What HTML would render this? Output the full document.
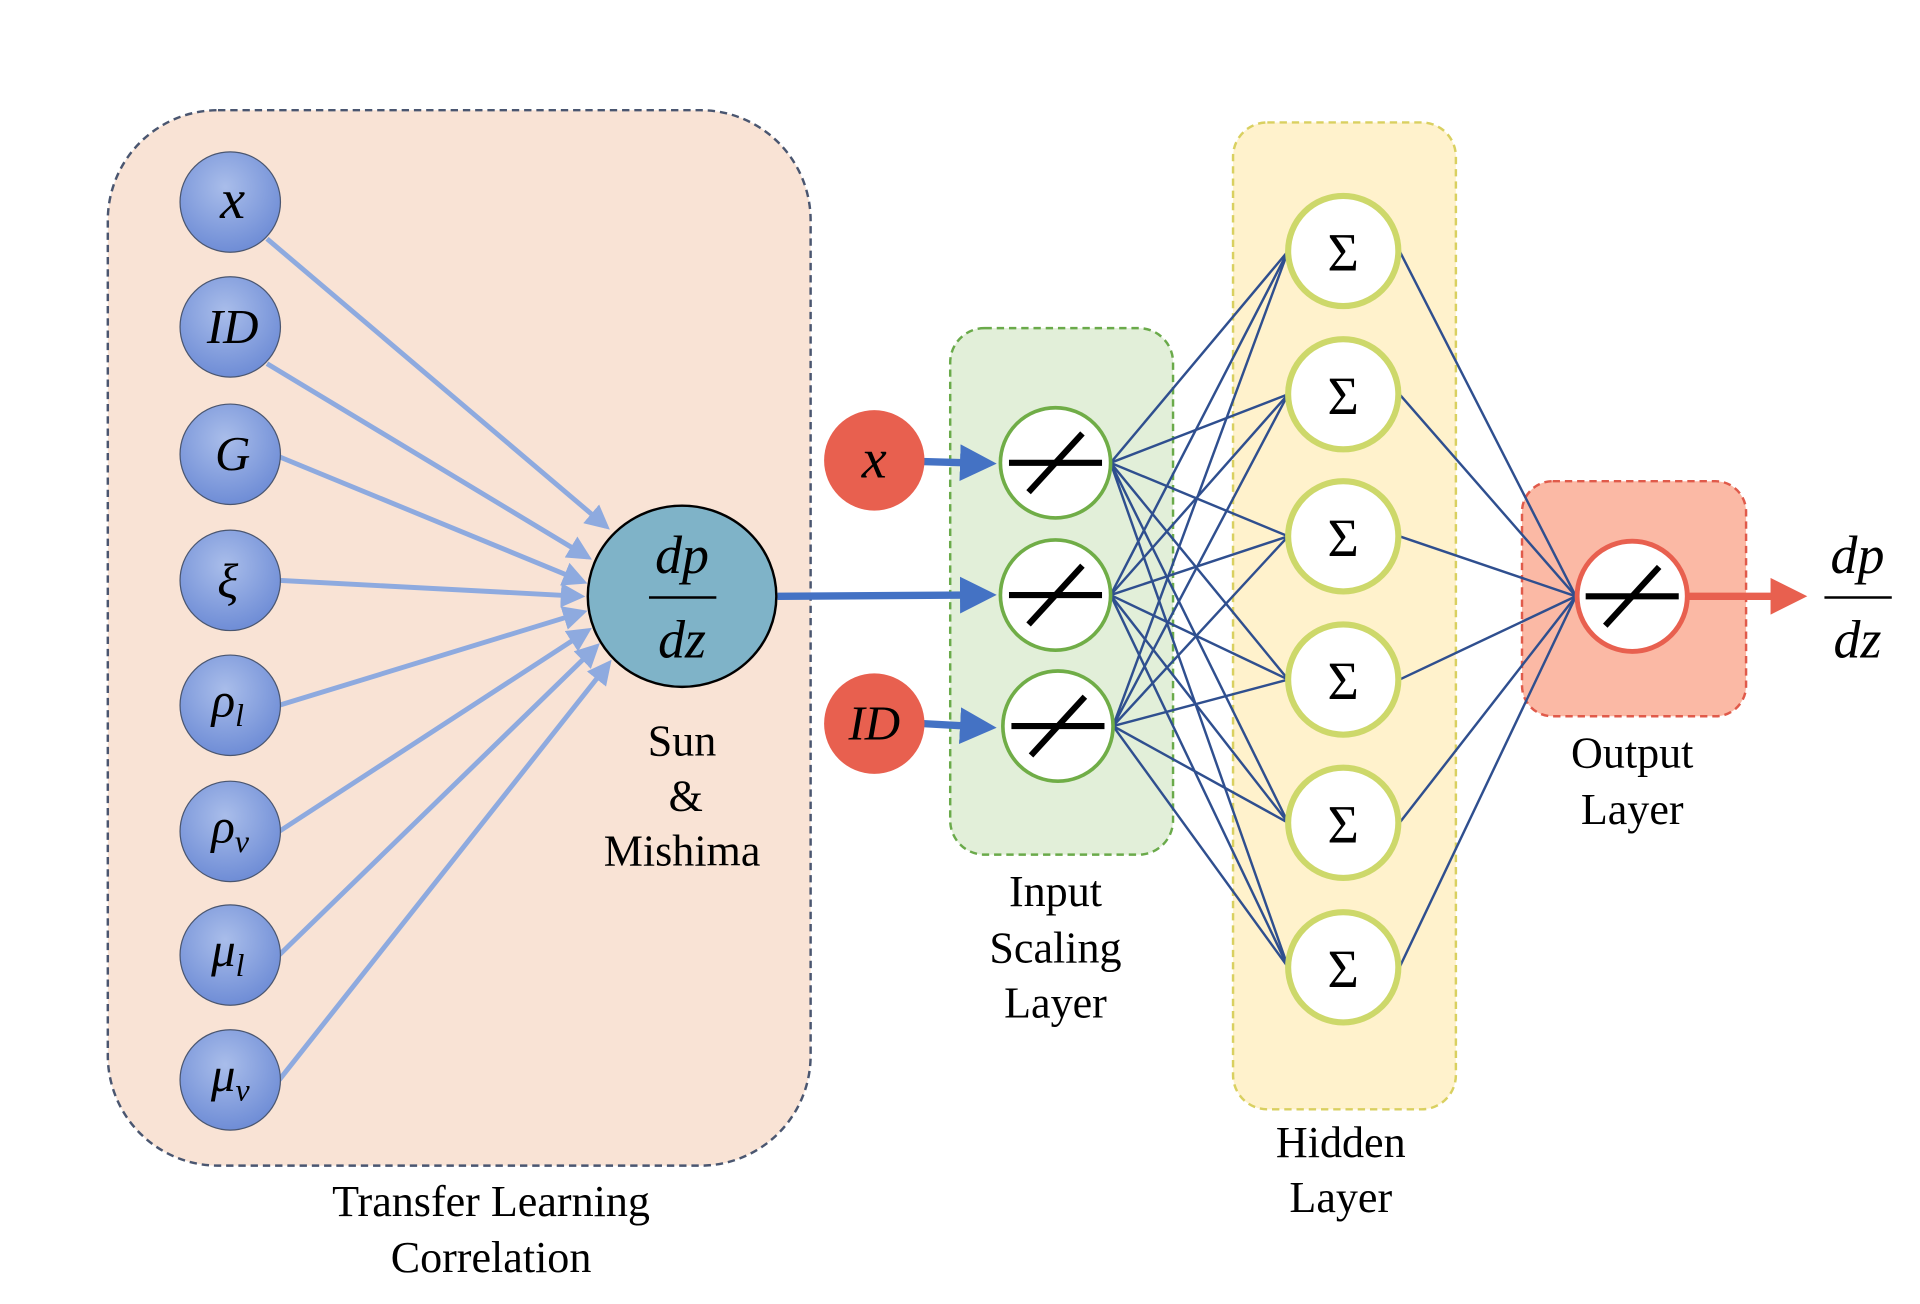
<!DOCTYPE html>
<html><head><meta charset="utf-8"><style>
html,body{margin:0;padding:0;background:#fff}
svg{display:block}
text{font-family:"Liberation Serif",serif;fill:#000}
.m{font-style:italic}
</style></head><body>
<svg width="1920" height="1304" viewBox="0 0 1568 1065" xmlns="http://www.w3.org/2000/svg">
<defs>
<radialGradient id="bg" cx="45%" cy="35%" r="65%"><stop offset="0" stop-color="#a9bdea"/><stop offset="1" stop-color="#6f8dd6"/></radialGradient>
<marker id="al" markerWidth="5" markerHeight="5" refX="4" refY="2.5" orient="auto" markerUnits="strokeWidth"><path d="M0,0 L5,2.5 L0,5 z" fill="#8eaadf"/></marker>
<marker id="ab" markerWidth="5" markerHeight="5" refX="1" refY="2.5" orient="auto" markerUnits="strokeWidth"><path d="M0,0 L5,2.5 L0,5 z" fill="#4472c4"/></marker>
<marker id="ar" markerWidth="5" markerHeight="5" refX="1" refY="2.5" orient="auto" markerUnits="strokeWidth"><path d="M0,0 L5,2.5 L0,5 z" fill="#e8604f"/></marker>
</defs>
<rect x="88" y="90" width="574" height="862" rx="90" fill="#f9e3d5" stroke="#4a5670" stroke-width="2" stroke-dasharray="6,4"/>
<rect x="776" y="268" width="182" height="430" rx="28" fill="#e2efd9" stroke="#6aaa4a" stroke-width="2" stroke-dasharray="6,4"/>
<rect x="1007" y="100" width="182" height="806" rx="28" fill="#fff2cc" stroke="#d9d060" stroke-width="2" stroke-dasharray="6,4"/>
<rect x="1243" y="393" width="183" height="192" rx="25" fill="#fbb9a5" stroke="#e05a4a" stroke-width="2" stroke-dasharray="6,4"/>
<g stroke="#8eaadf" stroke-width="4" marker-end="url(#al)">
<line x1="218" y1="195" x2="495" y2="430"/>
<line x1="218" y1="297" x2="480" y2="455"/>
<line x1="228" y1="373" x2="476" y2="475"/>
<line x1="228" y1="474" x2="474" y2="487"/>
<line x1="228" y1="576" x2="476" y2="500"/>
<line x1="228" y1="679" x2="480" y2="515"/>
<line x1="228" y1="780" x2="487" y2="528"/>
<line x1="228" y1="882" x2="497" y2="542"/>
</g>
<g stroke="#4a5670" stroke-width="1" fill="url(#bg)">
<circle cx="188" cy="165" r="41"/><circle cx="188" cy="267" r="41"/><circle cx="188" cy="371" r="41"/><circle cx="188" cy="474" r="41"/>
<circle cx="188" cy="576" r="41"/><circle cx="188" cy="679" r="41"/><circle cx="188" cy="780" r="41"/><circle cx="188" cy="882" r="41"/>
</g>
<g font-size="40" text-anchor="middle" class="m">
<text x="190" y="178" class="m" font-size="46">x</text>
<text x="190" y="280" class="m">ID</text>
<text x="190" y="384" class="m">G</text>
<text x="186" y="488" class="m">ξ</text>
<text x="186" y="585" class="m">ρ<tspan font-size="26" dy="8">l</tspan></text>
<text x="188" y="688" class="m">ρ<tspan font-size="26" dy="8">ν</tspan></text>
<text x="186" y="789" class="m">μ<tspan font-size="26" dy="8">l</tspan></text>
<text x="188" y="891" class="m">μ<tspan font-size="26" dy="8">ν</tspan></text>
</g>
<ellipse cx="557" cy="487" rx="77" ry="74" fill="#7fb3c8" stroke="#000" stroke-width="2"/>
<text x="557" y="468" font-size="44" text-anchor="middle" class="m">dp</text>
<line x1="530" y1="488" x2="585" y2="488" stroke="#000" stroke-width="2"/>
<text x="557" y="537" font-size="44" text-anchor="middle" class="m">dz</text>
<g font-size="36" text-anchor="middle">
<text x="557" y="617">Sun</text><text x="560" y="662">&amp;</text><text x="557" y="707">Mishima</text>
<text x="401" y="993">Transfer Learning</text><text x="401" y="1039">Correlation</text>
<text x="862" y="740">Input</text><text x="862" y="786">Scaling</text><text x="862" y="831">Layer</text>
<text x="1095" y="945">Hidden</text><text x="1095" y="990">Layer</text>
<text x="1333" y="627">Output</text><text x="1333" y="673">Layer</text>
</g>
<g stroke="#4472c4" stroke-width="6" marker-end="url(#ab)">
<line x1="635" y1="487" x2="790" y2="486"/>
<line x1="754" y1="377" x2="790" y2="378"/>
<line x1="754" y1="591" x2="790" y2="593"/>
</g>
<circle cx="714" cy="376" r="41" fill="#e8604f"/><circle cx="714" cy="591" r="41" fill="#e8604f"/>
<text x="714" y="390" font-size="46" text-anchor="middle" class="m">x</text>
<text x="714" y="604" font-size="40" text-anchor="middle" class="m">ID</text>
<g stroke="#2f4f8f" stroke-width="2">
<line x1="907" y1="378" x2="1052" y2="205"/><line x1="907" y1="378" x2="1052" y2="322"/><line x1="907" y1="378" x2="1052" y2="438"/><line x1="907" y1="378" x2="1052" y2="555"/><line x1="907" y1="378" x2="1052" y2="672"/><line x1="907" y1="378" x2="1052" y2="790"/>
<line x1="907" y1="486" x2="1052" y2="205"/><line x1="907" y1="486" x2="1052" y2="322"/><line x1="907" y1="486" x2="1052" y2="438"/><line x1="907" y1="486" x2="1052" y2="555"/><line x1="907" y1="486" x2="1052" y2="672"/><line x1="907" y1="486" x2="1052" y2="790"/>
<line x1="909" y1="593" x2="1052" y2="205"/><line x1="909" y1="593" x2="1052" y2="322"/><line x1="909" y1="593" x2="1052" y2="438"/><line x1="909" y1="593" x2="1052" y2="555"/><line x1="909" y1="593" x2="1052" y2="672"/><line x1="909" y1="593" x2="1052" y2="790"/>
<line x1="1143" y1="205" x2="1287" y2="487"/><line x1="1143" y1="322" x2="1287" y2="487"/><line x1="1143" y1="438" x2="1287" y2="487"/><line x1="1143" y1="555" x2="1287" y2="487"/><line x1="1143" y1="672" x2="1287" y2="487"/><line x1="1143" y1="790" x2="1287" y2="487"/>
</g>
<g fill="#fff" stroke="#70ad47" stroke-width="3">
<circle cx="862" cy="378" r="45"/><circle cx="862" cy="486" r="45"/><circle cx="864" cy="593" r="45"/>
</g>
<g stroke="#000" stroke-width="5">
<line x1="824" y1="378" x2="900" y2="378"/><line x1="840" y1="402" x2="884" y2="354"/>
<line x1="824" y1="486" x2="900" y2="486"/><line x1="840" y1="510" x2="884" y2="462"/>
<line x1="826" y1="593" x2="902" y2="593"/><line x1="842" y1="617" x2="886" y2="569"/>
</g>
<g fill="#fff" stroke="#cdd86a" stroke-width="5">
<circle cx="1097" cy="205" r="45"/><circle cx="1097" cy="322" r="45"/><circle cx="1097" cy="438" r="45"/><circle cx="1097" cy="555" r="45"/><circle cx="1097" cy="672" r="45"/><circle cx="1097" cy="790" r="45"/>
</g>
<g font-size="44" text-anchor="middle">
<text x="1097" y="221">Σ</text><text x="1097" y="338">Σ</text><text x="1097" y="454">Σ</text><text x="1097" y="571">Σ</text><text x="1097" y="688">Σ</text><text x="1097" y="806">Σ</text>
</g>
<line x1="1378" y1="487" x2="1452" y2="487" stroke="#e8604f" stroke-width="6" marker-end="url(#ar)"/>
<circle cx="1333" cy="487" r="45" fill="#fff" stroke="#e8604f" stroke-width="4"/>
<line x1="1295" y1="487" x2="1371" y2="487" stroke="#000" stroke-width="5"/><line x1="1311" y1="511" x2="1355" y2="463" stroke="#000" stroke-width="5"/>
<text x="1517" y="468" font-size="44" text-anchor="middle" class="m">dp</text>
<line x1="1490" y1="488" x2="1545" y2="488" stroke="#000" stroke-width="2"/>
<text x="1517" y="537" font-size="44" text-anchor="middle" class="m">dz</text>
</svg>
</body></html>
